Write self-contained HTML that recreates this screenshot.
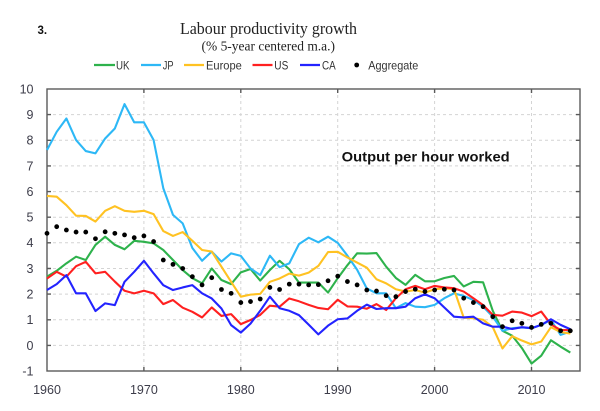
<!DOCTYPE html>
<html>
<head>
<meta charset="utf-8">
<style>
  html,body{margin:0;padding:0;background:#fff;}
  svg{display:block;}
</style>
</head>
<body>
<svg width="600" height="411" viewBox="0 0 600 411" xmlns="http://www.w3.org/2000/svg">
  <rect x="0" y="0" width="600" height="411" fill="#fff"/>

  <!-- Header -->
  <text x="37.5" y="34" font-family="Liberation Sans, sans-serif" font-weight="bold" font-size="11.5" fill="#111">3.</text>
  <text x="180" y="34" textLength="177" lengthAdjust="spacingAndGlyphs" font-family="Liberation Serif, serif" font-size="17" fill="#222">Labour productivity growth</text>
  <text x="201.5" y="50.5" textLength="133.5" lengthAdjust="spacingAndGlyphs" font-family="Liberation Serif, serif" font-size="13.5" fill="#222">(% 5-year centered m.a.)</text>

  <!-- Legend -->
  <g stroke-width="2.2" fill="none">
    <line x1="94" y1="65" x2="115" y2="65" stroke="#2eb24c"/>
    <line x1="141" y1="65" x2="161" y2="65" stroke="#2db8f6"/>
    <line x1="184" y1="65" x2="204" y2="65" stroke="#ffc222"/>
    <line x1="252.5" y1="65" x2="272.5" y2="65" stroke="#ff2020"/>
    <line x1="300" y1="65" x2="320" y2="65" stroke="#2323ff"/>
  </g>
  <circle cx="356.7" cy="65" r="2.4" fill="#000"/>
  <g font-family="Liberation Sans, sans-serif" font-size="12" fill="#333">
    <text x="116" y="69.5" textLength="13.5" lengthAdjust="spacingAndGlyphs">UK</text>
    <text x="162.7" y="69.5" textLength="10.8" lengthAdjust="spacingAndGlyphs">JP</text>
    <text x="206" y="69.5" textLength="35.8" lengthAdjust="spacingAndGlyphs">Europe</text>
    <text x="274.3" y="69.5" textLength="14" lengthAdjust="spacingAndGlyphs">US</text>
    <text x="322" y="69.5" textLength="13.7" lengthAdjust="spacingAndGlyphs">CA</text>
    <text x="368.3" y="69.5" textLength="50" lengthAdjust="spacingAndGlyphs">Aggregate</text>
  </g>

  <!-- Grid -->
  <g stroke="#d4d4d4" stroke-width="1" stroke-dasharray="3,3" fill="none">
    <line x1="47" y1="114.6" x2="580" y2="114.6"/>
    <line x1="47" y1="140.3" x2="580" y2="140.3"/>
    <line x1="47" y1="165.9" x2="580" y2="165.9"/>
    <line x1="47" y1="191.6" x2="580" y2="191.6"/>
    <line x1="47" y1="217.2" x2="580" y2="217.2"/>
    <line x1="47" y1="242.8" x2="580" y2="242.8"/>
    <line x1="47" y1="268.5" x2="580" y2="268.5"/>
    <line x1="47" y1="294.1" x2="580" y2="294.1"/>
    <line x1="47" y1="319.8" x2="580" y2="319.8"/>
    <line x1="47" y1="345.4" x2="580" y2="345.4"/>
    <line x1="143.9" y1="89" x2="143.9" y2="371"/>
    <line x1="240.8" y1="89" x2="240.8" y2="371"/>
    <line x1="337.7" y1="89" x2="337.7" y2="371"/>
    <line x1="434.6" y1="89" x2="434.6" y2="371"/>
    <line x1="531.5" y1="89" x2="531.5" y2="371"/>
  </g>

  <!-- Frame and ticks -->
  <g stroke="#5a5a5a" stroke-width="1.4" fill="none">
    <rect x="47" y="89" width="533" height="282"/>
    <path d="M47 114.6h4M47 140.3h4M47 165.9h4M47 191.6h4M47 217.2h4M47 242.8h4M47 268.5h4M47 294.1h4M47 319.8h4M47 345.4h4
             M580 114.6h-4M580 140.3h-4M580 165.9h-4M580 191.6h-4M580 217.2h-4M580 242.8h-4M580 268.5h-4M580 294.1h-4M580 319.8h-4M580 345.4h-4
             M143.9 371v-4M240.8 371v-4M337.7 371v-4M434.6 371v-4M531.5 371v-4
             M143.9 89v4M240.8 89v4M337.7 89v4M434.6 89v4M531.5 89v4"/>
  </g>

  <!-- Y labels -->
  <g font-family="Liberation Sans, sans-serif" font-size="12.5" fill="#3d3d4a" text-anchor="end">
    <text x="33.5" y="93.5">10</text>
    <text x="33.5" y="119">9</text>
    <text x="33.5" y="144.7">8</text>
    <text x="33.5" y="170.3">7</text>
    <text x="33.5" y="196">6</text>
    <text x="33.5" y="221.6">5</text>
    <text x="33.5" y="247.2">4</text>
    <text x="33.5" y="272.9">3</text>
    <text x="33.5" y="298.5">2</text>
    <text x="33.5" y="324.2">1</text>
    <text x="33.5" y="349.8">0</text>
    <text x="33.5" y="375.4">-1</text>
  </g>
  <!-- X labels -->
  <g font-family="Liberation Sans, sans-serif" font-size="12.5" fill="#3d3d4a" text-anchor="middle">
    <text x="47" y="394">1960</text>
    <text x="143.9" y="394">1970</text>
    <text x="240.8" y="394">1980</text>
    <text x="337.7" y="394">1990</text>
    <text x="434.6" y="394">2000</text>
    <text x="531.5" y="394">2010</text>
  </g>

  <text x="341.7" y="161.7" textLength="168" lengthAdjust="spacingAndGlyphs" font-family="Liberation Sans, sans-serif" font-weight="bold" font-size="13.5" fill="#111">Output per hour worked</text>

  <!-- Series (data coordinates: x = year-1960, y = value) -->
  <g transform="translate(47,345.4) scale(9.691,-25.64)" fill="none" stroke-linejoin="round">
    <!-- UK -->
    <polyline vector-effect="non-scaling-stroke" stroke="#2eb24c" stroke-width="2.1" points="0,2.68 1,2.91 2,3.20 3,3.46 4,3.33 5,3.92 6,4.24 7,3.92 8,3.75 9,4.08 10,4.04 11,3.98 12,3.72 13,3.33 14,2.94 15,2.62 16,2.42 17,3.00 18,2.55 19,2.39 20,2.85 21,2.98 22,2.53 23,2.94 24,3.30 25,2.97 26,2.45 27,2.45 28,2.45 29,2.06 30,2.62 31,3.13 32,3.59 33,3.58 34,3.60 35,3.07 36,2.63 37,2.36 38,2.75 39,2.50 40,2.50 41,2.63 42,2.71 43,2.30 44,2.48 45,2.46 46,1.35 47,0.57 48,0.38 49,-0.10 50,-0.71 51,-0.40 52,0.20 53,-0.05 54,-0.28"/>
    <!-- JP -->
    <polyline vector-effect="non-scaling-stroke" stroke="#2db8f6" stroke-width="2.1" points="0,7.62 1,8.33 2,8.85 3,8.01 4,7.58 5,7.49 6,8.07 7,8.46 8,9.41 9,8.70 10,8.70 11,8.01 12,6.13 13,5.09 14,4.76 15,3.80 16,3.30 17,3.66 18,3.27 19,3.59 20,3.49 21,3.00 22,2.74 23,3.50 24,3.05 25,3.20 26,3.95 27,4.20 28,4.02 29,4.24 30,4.00 31,3.50 32,2.95 33,2.22 34,2.03 35,2.03 36,1.45 37,1.65 38,1.51 39,1.49 40,1.58 41,1.84 42,2.03 43,1.93 44,1.77 45,1.51 46,1.12 47,0.57 48,0.67 49,0.70 50,0.67 51,0.80 52,0.99 53,0.41 54,0.54"/>
    <!-- Europe -->
    <polyline vector-effect="non-scaling-stroke" stroke="#ffc222" stroke-width="2.1" points="0,5.83 1,5.80 2,5.47 3,5.06 4,5.05 5,4.83 6,5.25 7,5.43 8,5.25 9,5.21 10,5.25 11,5.12 12,4.46 13,4.27 14,4.42 15,4.08 16,3.72 17,3.66 18,3.07 19,2.48 20,1.90 21,1.98 22,2.01 23,2.48 24,2.61 25,2.80 26,2.72 27,2.84 28,3.10 29,3.64 30,3.65 31,3.43 32,3.23 33,3.03 34,2.58 35,2.42 36,2.19 37,2.10 38,2.16 39,2.06 40,2.19 41,2.23 42,2.19 43,1.08 44,1.06 45,1.00 46,0.71 47,-0.12 48,0.36 49,0.19 50,0.04 51,0.15 52,0.71 53,0.52 54,0.46"/>
    <!-- US -->
    <polyline vector-effect="non-scaling-stroke" stroke="#ff2020" stroke-width="2.1" points="0,2.61 1,2.87 2,2.68 3,3.09 4,3.26 5,2.81 6,2.87 7,2.49 8,2.13 9,2.03 10,2.13 11,2.03 12,1.61 13,1.77 14,1.47 15,1.31 16,1.09 17,1.48 18,1.15 19,1.22 20,0.83 21,0.99 22,1.19 23,1.55 24,1.51 25,1.83 26,1.72 27,1.58 28,1.46 29,1.41 30,1.78 31,1.52 32,1.51 33,1.43 34,1.61 35,1.38 36,1.84 37,2.19 38,2.32 39,2.19 40,2.32 41,2.26 42,2.23 43,2.10 44,1.84 45,1.57 46,1.19 47,1.16 48,1.32 49,1.28 50,1.14 51,1.32 52,0.82 53,0.60 54,0.60"/>
    <!-- CA -->
    <polyline vector-effect="non-scaling-stroke" stroke="#2323ff" stroke-width="2.1" points="0,2.16 1,2.39 2,2.74 3,2.03 4,2.03 5,1.34 6,1.64 7,1.57 8,2.48 9,2.87 10,3.30 11,2.81 12,2.35 13,2.16 14,2.26 15,2.35 16,2.03 17,1.83 18,1.44 19,0.79 20,0.50 21,0.85 22,1.35 23,1.90 24,1.45 25,1.35 26,1.18 27,0.81 28,0.43 29,0.77 30,1.02 31,1.05 32,1.35 33,1.59 34,1.42 35,1.45 36,1.45 37,1.51 38,1.84 39,1.99 40,1.84 41,1.48 42,1.12 43,1.09 44,1.12 45,0.86 46,0.73 47,0.73 48,0.64 49,0.71 50,0.67 51,0.80 52,1.02 53,0.80 54,0.63"/>
    <!-- Aggregate dots -->
    <path vector-effect="non-scaling-stroke" stroke="#000" stroke-width="4.8" stroke-linecap="round" d="M0 4.37h0.0001M1 4.63h0.0001M2 4.50h0.0001M3 4.42h0.0001M4 4.42h0.0001M5 4.16h0.0001M6 4.43h0.0001M7 4.37h0.0001M8 4.31h0.0001M9 4.20h0.0001M10 4.27h0.0001M11 4.05h0.0001M12 3.33h0.0001M13 3.16h0.0001M14 3.00h0.0001M15 2.68h0.0001M16 2.36h0.0001M17 2.64h0.0001M18 2.18h0.0001M19 2.03h0.0001M20 1.67h0.0001M21 1.71h0.0001M22 1.81h0.0001M23 2.26h0.0001M24 2.18h0.0001M25 2.39h0.0001M26 2.39h0.0001M27 2.36h0.0001M28 2.37h0.0001M29 2.52h0.0001M30 2.70h0.0001M31 2.49h0.0001M32 2.36h0.0001M33 2.16h0.0001M34 2.12h0.0001M35 1.94h0.0001M36 1.90h0.0001M37 2.10h0.0001M38 2.19h0.0001M39 2.10h0.0001M40 2.16h0.0001M41 2.19h0.0001M42 2.16h0.0001M43 1.84h0.0001M44 1.67h0.0001M45 1.51h0.0001M46 1.12h0.0001M47 0.73h0.0001M48 0.96h0.0001M49 0.86h0.0001M50 0.70h0.0001M51 0.82h0.0001M52 0.86h0.0001M53 0.57h0.0001M54 0.57h0.0001"/>
  </g>
</svg>
</body>
</html>
